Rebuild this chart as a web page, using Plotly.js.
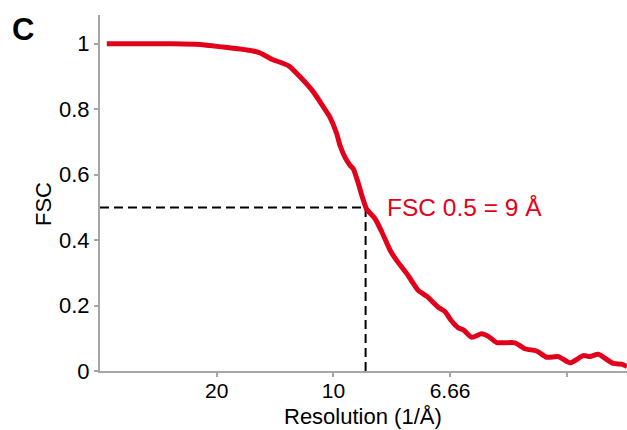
<!DOCTYPE html>
<html>
<head>
<meta charset="utf-8">
<script src="https://cdn.plot.ly/plotly-3.0.1.min.js"></script>
<style>
html,body{margin:0;padding:0;background:#fff;}
#chart{width:627px;height:430px;}
</style>
</head>
<body>
<div id="chart"></div>
<script>
// spatial frequency (1/Å)
var freq = [0.0029, 0.0171, 0.0313, 0.0428, 0.0527, 0.0600, 0.0656, 0.0686, 0.0736, 0.0810,
            0.0857, 0.0914, 0.0957, 0.0985, 0.1014, 0.1028, 0.1050, 0.1071, 0.1085, 0.1107,
            0.1123, 0.1143, 0.1178, 0.1208, 0.1243, 0.1271, 0.1320, 0.1364, 0.1401, 0.1449,
            0.1478, 0.1504, 0.1535, 0.1557, 0.1593, 0.1635, 0.1664, 0.1700, 0.1778, 0.1821,
            0.1871, 0.1914, 0.1964, 0.2014, 0.2071, 0.2099, 0.2135, 0.2199, 0.2235, 0.2258];
var fsc  = [1.000, 1.000, 1.000, 0.9975, 0.990, 0.984, 0.978, 0.972, 0.953, 0.932,
            0.899, 0.853, 0.807, 0.776, 0.726, 0.690, 0.653, 0.629, 0.618, 0.573,
            0.534, 0.494, 0.466, 0.424, 0.369, 0.338, 0.292, 0.246, 0.228, 0.195,
            0.182, 0.155, 0.132, 0.126, 0.103, 0.114, 0.106, 0.087, 0.086, 0.068,
            0.061, 0.042, 0.044, 0.025, 0.047, 0.044, 0.051, 0.023, 0.021, 0.014];

var xTickVals = [0.05, 0.10, 0.15, 0.20];
var xTickText = ["20", "10", "6.66", ""];
var yTickVals = [0, 0.2, 0.4, 0.6, 0.8, 1];
var yTickText = ["0", "0.2", "0.4", "0.6", "0.8", "1"];

var cutoffFSC = 0.5;
var cutoffFreq = 0.1138;
var cutoffLabel = "FSC 0.5 = 9 Å";

var red = "#e3001b";
var axisGray = "#a6a6a6";
var font = "Liberation Sans, Arial, sans-serif";

var traces = [
  {x: [0, cutoffFreq], y: [cutoffFSC, cutoffFSC], mode: "lines",
   line: {color: "#000", width: 2, dash: "9px,5px"}, hoverinfo: "skip", cliponaxis: false},
  {x: [cutoffFreq, cutoffFreq], y: [0, cutoffFSC], mode: "lines",
   line: {color: "#000", width: 2, dash: "9px,5px"}, hoverinfo: "skip", cliponaxis: false},
  {x: freq, y: fsc, mode: "lines",
   line: {color: red, width: 5, shape: "spline", smoothing: 0.6}, cliponaxis: false}
];

var layout = {
  width: 627, height: 430,
  margin: {l: 100, r: 0, t: 15, b: 59, pad: 0},
  paper_bgcolor: "#fff", plot_bgcolor: "#fff",
  showlegend: false,
  font: {family: font, color: "#000", size: 22},
  xaxis: {
    range: [0, 0.2258], showgrid: false, zeroline: false,
    showline: true, linecolor: axisGray, linewidth: 2,
    ticks: "outside", ticklen: 4, tickwidth: 2, tickcolor: axisGray,
    tickvals: xTickVals, ticktext: xTickText,
    ticklabelstandoff: -4,
    tickfont: {family: font, size: 21, color: "#000"}
  },
  yaxis: {
    range: [0, 1.088], showgrid: false, zeroline: false,
    showline: true, linecolor: axisGray, linewidth: 2,
    ticks: "outside", ticklen: 4, tickwidth: 2, tickcolor: axisGray,
    tickvals: yTickVals, ticktext: yTickText,
    tickfont: {family: font, size: 22, color: "#000"}
  },
  annotations: [
    {text: "<b>C</b>", xref: "paper", yref: "paper", x: -0.146, y: 0.959,
     xanchor: "center", yanchor: "middle", showarrow: false,
     font: {family: font, size: 31, color: "#000"}},
    {text: "FSC", xref: "paper", yref: "paper", x: -0.1072, y: 0.4677,
     xanchor: "center", yanchor: "middle", textangle: -90, showarrow: false,
     font: {family: font, size: 22, color: "#000"}},
    {text: "Resolution (1/Å)", xref: "paper", yref: "paper", x: 0.4991, y: -0.127,
     xanchor: "center", yanchor: "middle", showarrow: false,
     font: {family: font, size: 22, color: "#000"}},
    {text: cutoffLabel, xref: "x", yref: "y", x: 0.1221, y: cutoffFSC,
     xanchor: "left", yanchor: "middle", showarrow: false,
     font: {family: font, size: 24.5, color: red}}
  ]
};

Plotly.newPlot("chart", traces, layout, {displayModeBar: false, staticPlot: true});
</script>
</body>
</html>
